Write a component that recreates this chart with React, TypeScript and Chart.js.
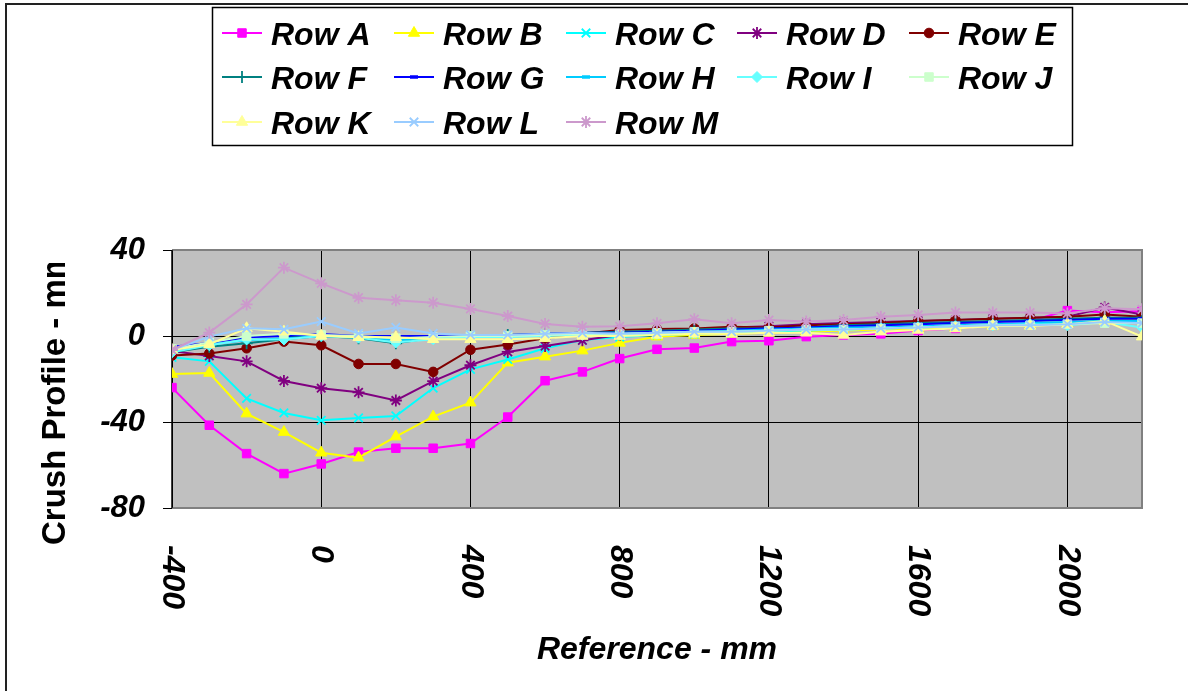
import React, { useEffect, useRef } from 'react';
import { Chart, registerables } from 'chart.js';
import { drawPoint } from 'chart.js/helpers';

Chart.register(...registerables);

// ---------- data ----------
const xPositions = [-400, -300, -200, -100, 0, 100, 200, 300, 400, 500, 600, 700, 800, 900, 1000, 1100, 1200, 1300, 1400, 1500, 1600, 1700, 1800, 1900, 2000, 2100, 2200];

const rowA = [-24, -41.5, -54.7, -64, -59.5, -54, -52.2, -52.2, -50, -37.7, -20.8, -16.7, -10.5, -6.2, -5.6, -2.6, -2.2, -0.3, 0.5, 1, 2.5, 3.5, 5, 7, 11.8, 11, 11.5];
const rowB = [-17.7, -17.2, -36.1, -44.7, -54.3, -56.6, -46.8, -37.5, -31, -12.4, -9.6, -6.8, -3.2, -0.3, 0.5, 1, 1.5, 2, 2.5, 3, 3.5, 4, 4.5, 5, 6, 7, 7.5];
const rowC = [-9.9, -11.8, -29, -35.8, -39.2, -38.1, -37.2, -24.2, -15.5, -10.9, -5.7, -1.9, -0.5, 0.5, 1, 1.5, 2, 2.5, 3, 3.5, 4, 4.5, 5, 5.5, 6, 7, 6.6];
const rowD = [-7, -9.3, -11.8, -20.9, -24.3, -26.2, -30, -21, -13.6, -7.4, -4.7, -2, 0.5, 2, 3, 4, 4.5, 5.5, 6, 6.5, 7, 7.5, 8, 8.5, 9, 13.3, 10];
const rowE = [-9.1, -8.1, -5.7, -2.6, -4.3, -13, -13, -16.7, -6.4, -4, -1, 1, 2.8, 3.2, 3.5, 4.3, 4, 5, 5.5, 6, 7, 7.5, 8, 8.5, 9, 10, 9];
const rowF = [-7.6, -5, -3.4, -1.5, 0, -1.1, -3.4, -0.8, -0.3, 0.5, 1, 1.5, 2, 2.5, 3, 3.5, 3.5, 4, 5, 5.5, 6, 6.5, 7, 7.5, 8, 8.5, 8.5];
const rowG = [-5, -3.3, -0.6, 0, 0.9, 0, 0, 0, 0.2, 0.5, 1, 1.5, 1.5, 2, 2.5, 3, 3.5, 4, 4.5, 5, 5.5, 6, 6.5, 7, 7.5, 8, 8];
const rowH = [-6, -4, -2, -1, 0, -0.5, -2, -1, 0, 0, 0.5, 1, 1, 1.5, 2, 2.5, 3, 3.5, 4, 4, 4.5, 5, 5.5, 6, 6.5, 7, 7];
const rowI = [-7.6, -4.3, -1.6, -1.6, 0, -0.8, -3, -1.5, -0.5, -0.5, 0, 0.5, 0.5, 1, 1.5, 2, 2.5, 3, 3, 3.5, 4, 4.5, 5, 5.5, 5, 6.5, 4];
const rowJ = [-6, -3, 0, 1, 0.5, 0, -1, -0.5, 0, 0, 0.5, 1, 1, 1.5, 2, 2, 2.5, 3, 3, 3.5, 4, 4.5, 5, 5, 5.5, 6, 6];
const rowK = [-6.5, -3.9, 3.6, 2, 0.1, -0.6, -0.6, -1.5, -1.5, -1.5, -1, 0, 0, 0.5, 1, 1, 1.5, 1.5, 0.5, 2, 2.8, 3.5, 4.7, 4.7, 5.5, 7, -0.3];
const rowL = [-6.5, -0.3, 3.6, 3.1, 6.7, 1.2, 4, 1.2, 0.5, 0.5, 1, 1.5, 1, 1.5, 2, 2, 2.5, 3, 3, 3.5, 4, 4.5, 5, 5, 5.5, 6.5, 6];
const rowM = [-6.5, 1.6, 14.7, 31.8, 24.5, 17.8, 16.6, 15.5, 12.6, 9.3, 5.6, 4.3, 4.5, 5.9, 7.8, 5.9, 7.4, 6.7, 7.4, 9, 9.8, 10.9, 10.9, 10.9, 10.5, 12.9, 12.4];

const seriesNames = ['Row A', 'Row B', 'Row C', 'Row D', 'Row E', 'Row F', 'Row G', 'Row H', 'Row I', 'Row J', 'Row K', 'Row L', 'Row M'];
const seriesValues = [rowA, rowB, rowC, rowD, rowE, rowF, rowG, rowH, rowI, rowJ, rowK, rowL, rowM];
const seriesColors = ['#FF00FF', '#FFFF00', '#00FFFF', '#800080', '#800000', '#008080', '#0000FF', '#00CCFF', '#66FFFF', '#CCFFCC', '#FFFF99', '#99CCFF', '#CC99CC'];
const seriesMarkers = ['rect', 'triangle', 'crossRot', 'star', 'circle', 'cross', 'line', 'line', 'rectRot', 'rect', 'triangle', 'crossRot', 'star'];
const markerRadius = [6, 6.5, 6, 6, 4.8, 6, 4, 4, 5.5, 6, 6.5, 6, 6];

const yTickValues = [-80, -40, 0, 40];
const xTickValues = [-400, 0, 400, 800, 1200, 1600, 2000];
const xTickLabels = ['-400', '0', '400', '800', '1200', '1600', '2000'];

const xTitle = 'Reference - mm';
const yTitle = 'Crush Profile - mm';

const FONT = '"Liberation Sans", Arial, sans-serif';
const strokeStyles = new Set(['crossRot', 'cross', 'star', 'line']);

export default function App() {
  const canvasRef = useRef<HTMLCanvasElement | null>(null);

  useEffect(() => {
    const canvas = canvasRef.current;
    if (!canvas) return;

    const datasets = seriesValues.map((vals, i) => ({
      label: seriesNames[i],
      data: xPositions.map((x, j) => ({ x, y: vals[j] })),
      borderColor: seriesColors[i],
      backgroundColor: seriesColors[i],
      pointBackgroundColor: seriesColors[i],
      pointBorderColor: seriesColors[i],
      pointStyle: seriesMarkers[i],
      pointRadius: markerRadius[i],
      pointBorderWidth: strokeStyles.has(seriesMarkers[i]) ? (seriesMarkers[i] === 'line' ? 3.5 : 1.8) : 1,
      borderWidth: 2,
      tension: 0,
      fill: false,
      order: seriesNames.length - i,
    }));

    const decor = {
      id: 'decor',
      beforeDraw(chart: any) {
        const { ctx, chartArea: a } = chart;
        ctx.save();
        ctx.fillStyle = '#C0C0C0';
        ctx.fillRect(a.left, a.top, a.right - a.left, a.bottom - a.top);
        ctx.restore();
      },
      beforeDatasetsDraw(chart: any) {
        const { ctx, chartArea: a } = chart;
        ctx.save();
        ctx.strokeStyle = '#808080';
        ctx.lineWidth = 2;
        ctx.beginPath();
        ctx.moveTo(a.left, a.top);
        ctx.lineTo(a.right, a.top);
        ctx.lineTo(a.right, a.bottom);
        ctx.lineTo(a.left, a.bottom);
        ctx.stroke();
        ctx.strokeStyle = '#000';
        ctx.lineWidth = 1.5;
        ctx.beginPath();
        ctx.moveTo(a.left, a.top);
        ctx.lineTo(a.left, a.bottom);
        ctx.stroke();
        ctx.restore();
      },
      afterDraw(chart: any) {
        const { ctx, chartArea: a } = chart;
        const xs = chart.scales.x;
        ctx.save();
        // outer frame
        ctx.strokeStyle = '#222';
        ctx.lineWidth = 2;
        ctx.beginPath();
        ctx.moveTo(6, 691);
        ctx.lineTo(6, 4);
        ctx.lineTo(1188, 4);
        ctx.stroke();

        // x tick labels, rotated clockwise
        ctx.fillStyle = '#000';
        ctx.font = `italic bold 32px ${FONT}`;
        ctx.textAlign = 'left';
        ctx.textBaseline = 'middle';
        xTickValues.forEach((v, i) => {
          const px = xs.getPixelForValue(v);
          ctx.save();
          ctx.translate(px, a.bottom + 37);
          ctx.rotate(Math.PI / 2);
          ctx.fillText(xTickLabels[i], 0, 0);
          ctx.restore();
        });

        // x title
        ctx.font = `italic bold 32px ${FONT}`;
        ctx.textAlign = 'center';
        ctx.textBaseline = 'alphabetic';
        ctx.fillText(xTitle, (a.left + a.right) / 2, 659);

        // y title (clipped at top)
        ctx.save();
        ctx.beginPath();
        ctx.rect(0, 263, 170, 428);
        ctx.clip();
        ctx.translate(65, 545);
        ctx.rotate(-Math.PI / 2);
        ctx.font = `bold 33px ${FONT}`;
        ctx.textAlign = 'left';
        ctx.textBaseline = 'alphabetic';
        ctx.fillText(yTitle, 0, 0);
        ctx.restore();

        // legend box
        ctx.strokeStyle = '#000';
        ctx.lineWidth = 1.5;
        ctx.strokeRect(212.5, 7.5, 860, 138);
        const colX = [222, 394, 566, 737, 909];
        const rowY = [33, 77, 122];
        seriesNames.forEach((name, i) => {
          const cx = colX[i % 5];
          const cy = rowY[Math.floor(i / 5)];
          ctx.strokeStyle = seriesColors[i];
          ctx.fillStyle = seriesColors[i];
          ctx.lineWidth = 2;
          ctx.beginPath();
          ctx.moveTo(cx, cy);
          ctx.lineTo(cx + 40, cy);
          ctx.stroke();
          const style = seriesMarkers[i];
          ctx.lineWidth = strokeStyles.has(style) ? (style === 'line' ? 3.5 : 1.8) : 1;
          drawPoint(ctx, { pointStyle: style, radius: markerRadius[i], rotation: 0, borderWidth: ctx.lineWidth } as any, cx + 20, cy);
          ctx.fillStyle = '#000';
          ctx.font = `italic bold 32px ${FONT}`;
          ctx.textAlign = 'left';
          ctx.textBaseline = 'alphabetic';
          ctx.fillText(name, cx + 49, cy + 12);
        });
        ctx.restore();
      },
    };

    const chart = new Chart(canvas, {
      type: 'line',
      data: { datasets: datasets as any },
      options: {
        responsive: false,
        animation: false,
        devicePixelRatio: 1,
        layout: { padding: { left: 0, top: 250, right: 46, bottom: 0 } },
        plugins: { legend: { display: false }, tooltip: { enabled: false } },
        scales: {
          x: {
            type: 'linear',
            min: -400,
            max: 2200,
            afterBuildTicks: (scale: any) => {
              scale.ticks = xTickValues.map((v) => ({ value: v }));
            },
            afterFit: (scale: any) => {
              scale.height = 183;
            },
            ticks: { display: false },
            grid: { color: '#000', lineWidth: 1, drawTicks: false },
            border: { display: false },
          },
          y: {
            type: 'linear',
            min: -80,
            max: 40,
            afterBuildTicks: (scale: any) => {
              scale.ticks = yTickValues.map((v) => ({ value: v }));
            },
            afterFit: (scale: any) => {
              scale.width = 172;
            },
            ticks: {
              color: '#000',
              padding: 18,
              font: { family: FONT, size: 31, weight: 'bold', style: 'italic' },
            },
            grid: { color: '#000', lineWidth: 1, tickLength: 9, tickColor: '#000' },
            border: { display: false },
          },
        },
      },
      plugins: [decor],
    });

    return () => chart.destroy();
  }, []);

  return (
    <div style={{ position: 'fixed', left: 0, top: 0, width: 1188, height: 691, background: '#fff' }}>
      <canvas ref={canvasRef} width={1188} height={691} />
    </div>
  );
}
